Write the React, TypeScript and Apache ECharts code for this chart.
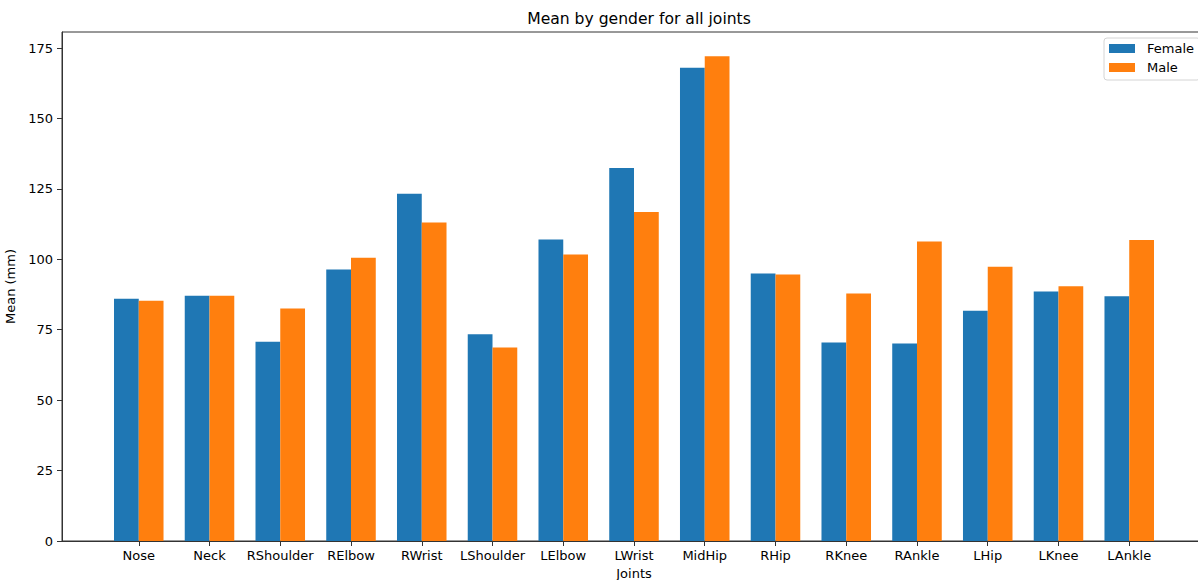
import React, { useEffect, useRef } from "react";
import * as echarts from "echarts";

const categories = ["Nose", "Neck", "RShoulder", "RElbow", "RWrist", "LShoulder", "LElbow", "LWrist", "MidHip", "RHip", "RKnee", "RAnkle", "LHip", "LKnee", "LAnkle"];
const female = [86.0, 87.1, 70.7, 96.4, 123.3, 73.4, 107.0, 132.4, 168.0, 95.0, 70.5, 70.1, 81.7, 88.6, 86.9];
const male = [85.3, 87.1, 82.5, 100.6, 113.1, 68.7, 101.7, 116.8, 172.1, 94.6, 87.9, 106.3, 97.4, 90.4, 106.9];
const yTicks = [0, 25, 50, 75, 100, 125, 150, 175];

const W = 1198;
const H = 580;
const FONT = "DejaVu Sans";

export default function App() {
  const ref = useRef<HTMLDivElement>(null);
  useEffect(() => {
    document.body.style.margin = "0";
    if (!ref.current) return;
    const chart = echarts.init(ref.current, null, { renderer: "svg" });
    const plotLeft = 62;
    const plotRight = 1206;
    const top = 32;
    const bottom = 541;
    const xmin = -1.085;
    const xmax = categories.length - 1 + 1.085;
    const ppu = (plotRight - plotLeft) / (xmax - xmin);
    const bandLeft = plotLeft + (-0.5 - xmin) * ppu;
    const bandRight = plotLeft + (categories.length - 0.5 - xmin) * ppu;
    const yMax = Math.max(...female, ...male) * 1.05;
    const barW = 0.35 * ppu;
    const axisColor = "#333";
    chart.setOption({
      animation: false,
      backgroundColor: "#fff",
      title: {
        text: "Mean by gender for all joints",
        left: (plotLeft + plotRight) / 2,
        textAlign: "center",
        top: 6,
        textStyle: { fontFamily: FONT, fontSize: 15.6, fontWeight: "normal", color: "#000" },
      },
      legend: {
        orient: "vertical",
        left: 1104,
        top: 38,
        padding: [4, 6, 6, 5],
        itemWidth: 26,
        itemHeight: 9,
        itemGap: 6,
        backgroundColor: "#fff",
        borderColor: "#d4d4d4",
        borderWidth: 1,
        borderRadius: 3,
        icon: "rect",
        textStyle: { fontFamily: FONT, fontSize: 13, color: "#000", padding: [0, 0, 0, 7] },
        data: ["Female", "Male"],
      },
      grid: [
        { left: plotLeft, right: W - plotRight, top, bottom: H - bottom, show: true, borderColor: axisColor, borderWidth: 1, backgroundColor: "transparent", outerBoundsMode: "none", containLabel: false },
        { left: bandLeft, right: W - bandRight, top, bottom: H - bottom, outerBoundsMode: "none", containLabel: false },
      ],
      xAxis: [
        {
          type: "value",
          gridIndex: 0,
          min: 0,
          max: 1,
          axisLine: { show: true, lineStyle: { color: axisColor } },
          axisTick: { show: false },
          axisLabel: { show: false },
          splitLine: { show: false },
          name: "Joints",
          nameLocation: "middle",
          nameGap: 26,
          nameTextStyle: { fontFamily: FONT, fontSize: 13, color: "#000" },
        },
        {
          type: "category",
          gridIndex: 1,
          data: categories,
          boundaryGap: true,
          axisLine: { show: true, lineStyle: { color: axisColor } },
          axisTick: { show: true, alignWithLabel: true, length: 5, lineStyle: { color: axisColor } },
          axisLabel: { fontFamily: FONT, fontSize: 13, color: "#000", margin: 8, interval: 0 },
        },
      ],
      yAxis: [
        {
          type: "value",
          gridIndex: 0,
          min: 0,
          max: yMax,
          axisLine: { show: true, lineStyle: { color: axisColor } },
          axisTick: { show: true, length: 5, lineStyle: { color: axisColor }, customValues: yTicks },
          axisLabel: { fontFamily: FONT, fontSize: 13, color: "#000", margin: 9, customValues: yTicks },
          splitLine: { show: false },
          name: "Mean (mm)",
          nameLocation: "middle",
          nameGap: 38,
          nameRotate: 90,
          nameTextStyle: { fontFamily: FONT, fontSize: 13, color: "#000" },
        },
        {
          type: "value",
          gridIndex: 1,
          min: 0,
          max: yMax,
          show: false,
        },
      ],
      series: [
        {
          name: "Female",
          type: "bar",
          xAxisIndex: 1,
          yAxisIndex: 1,
          data: female,
          barWidth: barW,
          barGap: "0%",
          itemStyle: { color: "#1f77b4" },
        },
        {
          name: "Male",
          type: "bar",
          xAxisIndex: 1,
          yAxisIndex: 1,
          data: male,
          barWidth: barW,
          barGap: "0%",
          itemStyle: { color: "#ff7f0e" },
        },
      ],
    });
    return () => chart.dispose();
  }, []);
  return <div ref={ref} style={{ width: W, height: H }} />;
}
